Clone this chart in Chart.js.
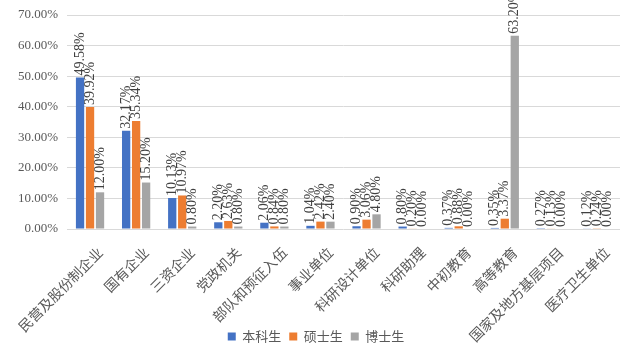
<!DOCTYPE html>
<html>
<head>
<meta charset="utf-8">
<script src="https://cdn.jsdelivr.net/npm/chart.js@4/dist/chart.umd.min.js"></script>
<style>
  html, body { margin: 0; padding: 0; background: #fff; }
  #wrap { width: 640px; height: 348px; }
</style>
</head>
<body>
<div id="wrap"><canvas id="myChart" width="640" height="348"></canvas></div>
<script>
const categories = [
  "民营及股份制企业", "国有企业", "三资企业", "党政机关", "部队和预征入伍", "事业单位",
  "科研设计单位", "科研助理", "中初教育", "高等教育", "国家及地方基层项目", "医疗卫生单位"
];
const seriesNames = ["本科生", "硕士生", "博士生"];
const bachelor = [49.58, 32.17, 10.13, 2.20, 2.06, 1.04, 0.90, 0.80, 0.37, 0.35, 0.27, 0.12];
const master = [39.92, 35.34, 10.97, 2.63, 0.84, 2.42, 3.06, 0.20, 0.88, 3.37, 0.13, 0.24];
const doctor = [12.00, 15.20, 0.80, 0.80, 0.80, 2.40, 4.80, 0.00, 0.00, 63.20, 0.00, 0.00];
const yTicks = [0, 10, 20, 30, 40, 50, 60, 70];

const colors = ["#4472C4", "#ED7D31", "#A5A5A5"];
const serif = "'Liberation Serif', 'Noto Sans CJK SC', serif";
const cjk = "'Noto Sans CJK SC', 'Liberation Serif', serif";

// vertical value labels above every bar
const barLabels = {
  id: "barLabels",
  afterDatasetsDraw(chart) {
    const ctx = chart.ctx;
    ctx.save();
    ctx.font = "14px " + serif;
    ctx.fillStyle = "#404040";
    ctx.textAlign = "left";
    ctx.textBaseline = "middle";
    chart.data.datasets.forEach((ds, i) => {
      chart.getDatasetMeta(i).data.forEach((bar, j) => {
        ctx.save();
        ctx.translate(bar.x, bar.y - 2);
        ctx.rotate(-Math.PI / 2);
        ctx.fillText(ds.data[j].toFixed(2) + "%", 0, 0);
        ctx.restore();
      });
    });
    ctx.restore();
  }
};

const chartCanvas = document.getElementById("myChart").getContext("2d");
new Chart(chartCanvas, {
  type: "bar",
  data: {
    labels: categories,
    datasets: [bachelor, master, doctor].map((d, i) => ({
      label: seriesNames[i],
      data: d,
      backgroundColor: colors[i],
      categoryPercentage: 0.65,
      barPercentage: 0.83
    }))
  },
  options: {
    responsive: false,
    animation: false,
    layout: { padding: { top: 15, right: 14, left: 6, bottom: -5 } },
    plugins: {
      legend: {
        position: "bottom",
        labels: {
          boxWidth: 8,
          boxHeight: 8,
          padding: 8,
          color: "#595959",
          font: { family: cjk, size: 13 }
        }
      },
      tooltip: { enabled: false }
    },
    scales: {
      x: {
        grid: { display: false },
        border: { display: false },
        ticks: {
          minRotation: 45,
          maxRotation: 45,
          autoSkip: false,
          color: "#595959",
          font: { family: cjk, size: 14 },
          padding: 7,
          labelOffset: 10
        },
        afterFit(s) {
          s.height = 93;
          s.paddingLeft = 0;
          s.paddingRight = 0;
          // long slanted names run down past the axis box
          s._computeLabelArea = () => undefined;
        }
      },
      y: {
        min: 0,
        max: 70,
        afterBuildTicks(s) { s.ticks = yTicks.map(v => ({ value: v })); },
        grid: { color: "#D9D9D9", drawTicks: false },
        border: { display: false },
        ticks: {
          padding: 9,
          color: "#595959",
          font: { family: serif, size: 13 },
          callback: v => v.toFixed(2) + "%"
        },
        afterFit(s) {
          s.width = 61;
          s.paddingTop = 0;
          s.paddingBottom = 0;
        }
      },
      // empty right-hand strip, keeps the plot edge in place
      yRight: {
        position: "right",
        grid: { display: false },
        border: { display: false },
        ticks: { display: false },
        afterFit(s) {
          s.width = 6;
          s.paddingTop = 0;
          s.paddingBottom = 0;
        }
      }
    }
  },
  plugins: [barLabels]
});
</script>
</body>
</html>
